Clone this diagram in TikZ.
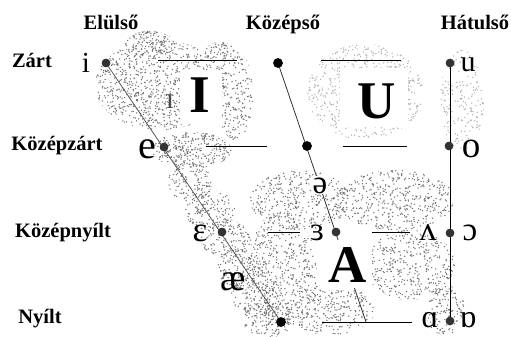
\documentclass[tikz,border=0pt]{standalone}
\usepackage{fontspec}
\setmainfont{Liberation Serif}
\newcommand\mySpeck[6]{%
  \begin{scope}
  \clip (#1,#2) ellipse [x radius=#3, y radius=#4];
  \foreach \k in {1,...,#5}{%
    \pgfmathsetmacro\spx{#1+#3*rand}%
    \pgfmathsetmacro\spy{#2+#4*rand}%
    \fill[#6] (\spx,\spy) circle [radius=0.75];
  }
  \end{scope}}
\tikzset{
  lbl/.style={font=\fontsize{20.5}{24}\selectfont\bfseries, anchor=base, inner sep=0pt},
  ipa/.style={anchor=base, inner sep=0pt, font=\fontsize{#1}{#1}\selectfont},
  big/.style={font=\fontsize{53}{60}\selectfont\bfseries, anchor=base, inner sep=0pt},
  dotb/.style={circle, fill=black, inner sep=0pt, minimum size=9.5pt},
  dotg/.style={circle, fill=black!80, inner sep=0pt, minimum size=8.5pt},
  gridline/.style={line width=0.9pt, black},
  dk/.style={black!55},
  lt/.style={black!30},
  hole/.style={fill=white, draw=none}
}
\begin{document}
\begin{tikzpicture}[x=1pt,y=-1pt]
\useasboundingbox (0,0) rectangle (511,337);
\fill[white] (0,0) rectangle (511,337);
\pgfmathsetseed{7}
% speckled clouds (dark)
\mySpeck{160}{85}{65}{45}{1100}{dk}
\mySpeck{235}{95}{18}{45}{240}{dk}
\mySpeck{150}{45}{25}{14}{150}{dk}
\mySpeck{220}{52}{15}{10}{70}{dk}
\mySpeck{192}{150}{40}{18}{360}{dk}
\mySpeck{190}{182}{22}{20}{160}{dk}
\mySpeck{210}{210}{25}{20}{180}{dk}
\mySpeck{226}{240}{25}{20}{180}{dk}
\mySpeck{242}{268}{25}{20}{180}{dk}
\mySpeck{256}{295}{25}{20}{180}{dk}
\mySpeck{268}{320}{25}{18}{160}{dk}
\mySpeck{300}{200}{50}{30}{480}{dk}
\mySpeck{395}{200}{60}{30}{560}{dk}
\mySpeck{282}{270}{35}{55}{560}{dk}
\mySpeck{410}{265}{45}{35}{480}{dk}
\mySpeck{330}{310}{45}{25}{340}{dk}
\mySpeck{445}{310}{20}{25}{170}{dk}
% speckled clouds (light)
\mySpeck{365}{92}{58}{48}{800}{lt}
\mySpeck{462}{100}{22}{50}{220}{lt}
% white holes
\fill[hole] (180,70) rectangle (222,124);
\fill[hole] (340,68) rectangle (408,127);
\fill[hole] (322,238) rectangle (372,290);
% vowel points
\node[dotg] (pi) at (106,63) {};
\node[dotg] (pe) at (164,147) {};
\node[dotg] (peps) at (222,232) {};
\node[dotb] (pa) at (281,322) {};
\node[dotb] (pct) at (278,63) {};
\node[dotb] (pcm) at (307,146) {};
\node[dotg] (pco) at (336,232) {};
\coordinate (pcb) at (366,322);
\node[dotg] (pu) at (450,63) {};
\node[dotg] (po) at (449,146) {};
\node[dotg] (popen) at (450,233) {};
\node[dotg] (pbo) at (450,321) {};
% horizontal guide lines
\coordinate (h1a) at (158,60); \coordinate (h1b) at (237,60);
\coordinate (h2a) at (321,60); \coordinate (h2b) at (401,60);
\coordinate (h3a) at (206,146); \coordinate (h3b) at (267,146);
\coordinate (h4a) at (343,146); \coordinate (h4b) at (407,146);
\coordinate (h5a) at (268,232); \coordinate (h5b) at (300,232);
\coordinate (h6a) at (372,232); \coordinate (h6b) at (410,232);
\coordinate (h7a) at (322,322); \coordinate (h7b) at (412,322);
\draw[gridline] (h1a) -- (h1b);
\draw[gridline] (h2a) -- (h2b);
\draw[gridline] (h3a) -- (h3b);
\draw[gridline] (h4a) -- (h4b);
\draw[gridline] (h5a) -- (h5b);
\draw[gridline] (h6a) -- (h6b);
\draw[gridline] (h7a) -- (h7b);
% main lines
\draw[gray!70!black, line width=0.8pt] (pi.center) -- (pa.center);
\draw[gray!40!black, line width=0.8pt] (pct.center) -- (pcb);
\draw[black, line width=0.8pt] (pu.center) -- (pbo.center);
\fill[hole] (324,240) rectangle (370,288);
% redraw points above lines
\foreach \p/\s in {pi/dotg,pe/dotg,peps/dotg,pa/dotb,pct/dotb,pcm/dotb,pco/dotg,pu/dotg,po/dotg,popen/dotg,pbo/dotg}{
  \node[\s] at (\p) {};
}
% big letters
\node[big] (bI) at (200,112) {I};
\node[big] (bU) at (377,118) {U};
\node[big] (bA) at (348,282) {A};
% IPA symbols
\node[ipa=29] (si) at (86,72) {i};
\node[ipa=30, text=gray!60!black] (ssi) at (170,108) {ɪ};
\node[ipa=40] (se) at (147,158) {e};
\node[ipa=37] (so) at (471,157) {o};
\node[ipa=30] (su) at (468,71) {u};
\node[ipa=35] (seps) at (200,241) {ɛ};
\node[ipa=38] (sae) at (233,290) {æ};
\node[ipa=33, fill=white, inner sep=1pt] (sschwa) at (320,193) {ə};
\node[ipa=33] (srev) at (317,240) {ɜ};
\node[ipa=34] (swedge) at (428,240) {ʌ};
\node[ipa=33] (sopeno) at (470,240) {ɔ};
\node[ipa=32] (salpha) at (430,327) {ɑ};
\node[ipa=32] (sturned) at (468,327) {ɒ};
% headers
\node[lbl] (hF) at (111,30) {Elülső};
\node[lbl] (hC) at (283,30) {Középső};
\node[lbl] (hB) at (475,30) {Hátulső};
% row labels
\node[lbl] (r1) at (32,67) {Zárt};
\node[lbl] (r2) at (57,150) {Középzárt};
\node[lbl] (r3) at (63,237) {Középnyílt};
\node[lbl] (r4) at (40,323) {Nyílt};
\end{tikzpicture}
\end{document}
